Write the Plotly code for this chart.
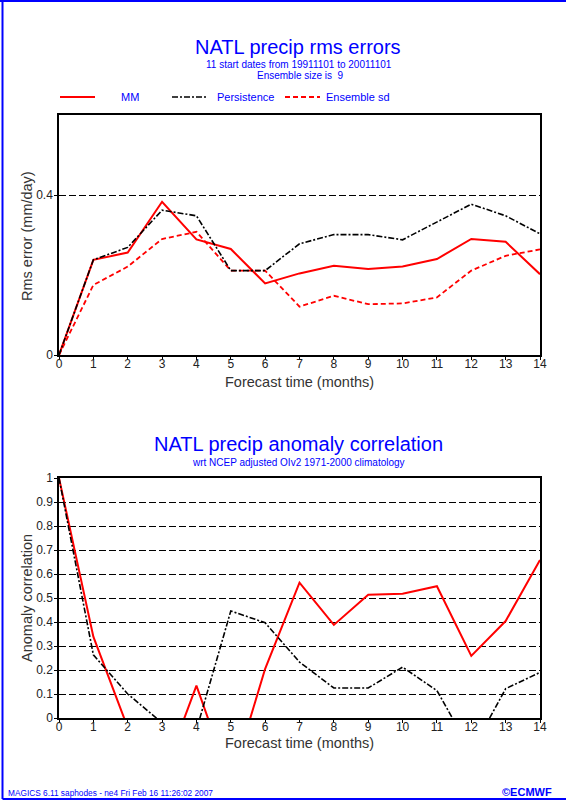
import plotly.graph_objects as go

# Forecast lead time (months)
months = list(range(15))

# RMS errors (mm/day)
rms_mm = [0, 0.238, 0.256, 0.383, 0.289, 0.265, 0.179, 0.204, 0.223, 0.215, 0.221, 0.240, 0.290, 0.283, 0.202]
rms_persistence = [0, 0.238, 0.269, 0.362, 0.348, 0.211, 0.211, 0.278, 0.301, 0.301, 0.288, 0.333, 0.377, 0.348, 0.303]
ensemble_sd = [0, 0.175, 0.221, 0.290, 0.308, 0.211, 0.211, 0.121, 0.148, 0.127, 0.129, 0.144, 0.211, 0.248, 0.264]

# Anomaly correlation
acc_mm = [1.0, 0.339, -0.04, -0.25, 0.135, -0.27, 0.205, 0.564, 0.388, 0.514, 0.518, 0.549, 0.259, 0.404, 0.658]
acc_persistence = [1.0, 0.263, 0.100, -0.02, -0.05, 0.446, 0.397, 0.233, 0.125, 0.125, 0.212, 0.114, -0.14, 0.122, 0.190]

rms_ticks = [0, 0.4]
rms_ticktext = ["0", "0.4"]
acc_ticks = [round(0.1 * i, 1) for i in range(11)]
acc_ticktext = ["0", "0.1", "0.2", "0.3", "0.4", "0.5", "0.6", "0.7", "0.8", "0.9", "1"]

W, H = 566, 805
FONT = "Liberation Sans, Arial, sans-serif"
BLUE = "#0000ff"
RED = "#ff0000"

MM_LINE = dict(color=RED, width=2)
PERS_LINE = dict(color="black", width=1.6, dash="6px,2px,2px,2px")
SD_LINE = dict(color=RED, width=1.8, dash="5px,3px")


def px(x):
    return x / W


def py(y):
    return 1 - y / H


fig = go.Figure()

fig.add_trace(go.Scatter(x=months, y=rms_mm, mode="lines", line=MM_LINE, xaxis="x", yaxis="y", name="MM"))
fig.add_trace(go.Scatter(x=months, y=ensemble_sd, mode="lines", line=SD_LINE, xaxis="x", yaxis="y", name="Ensemble sd"))
fig.add_trace(go.Scatter(x=months, y=rms_persistence, mode="lines", line=PERS_LINE, xaxis="x", yaxis="y", name="Persistence"))

fig.add_trace(go.Scatter(x=months, y=acc_mm, mode="lines", line=MM_LINE, xaxis="x2", yaxis="y2", name="MM"))
fig.add_trace(go.Scatter(x=months, y=acc_persistence, mode="lines", line=PERS_LINE, xaxis="x2", yaxis="y2", name="Persistence"))

tickfont = dict(family=FONT, size=12, color="#222")
axis_title_font = dict(family=FONT, size=14.5, color="#333")

common_x = dict(range=[0, 14], dtick=1, tick0=0, showline=True, mirror=True, linecolor="black",
                linewidth=1.5, ticks="outside", ticklen=3, tickcolor="black", showgrid=False,
                zeroline=False, tickfont=tickfont, fixedrange=True, automargin=False,
                ticklabelstandoff=-6)
common_y = dict(showline=True, mirror=True, linecolor="black", linewidth=1.5, ticks="outside",
                ticklen=3, tickcolor="black", showgrid=True, gridcolor="black", gridwidth=1,
                griddash="7px,3px", zeroline=False, tickfont=tickfont, fixedrange=True,
                automargin=False, ticklabelstandoff=-1)

fig.update_layout(
    width=W, height=H,
    margin=dict(l=0, r=0, t=0, b=0, pad=0),
    paper_bgcolor="white", plot_bgcolor="white",
    showlegend=False,
    xaxis=dict(domain=[px(59), px(540)], anchor="y", **common_x),
    yaxis=dict(domain=[py(355), py(115)], anchor="x", range=[0, 0.6],
               tickvals=rms_ticks, ticktext=rms_ticktext, **common_y),
    xaxis2=dict(domain=[px(59), px(540)], anchor="y2", **common_x),
    yaxis2=dict(domain=[py(718), py(478)], anchor="x2", range=[0, 1],
                tickvals=acc_ticks, ticktext=acc_ticktext, **common_y),
)

annotations = [
    dict(text="NATL precip rms errors", x=px(298), y=py(47), font=dict(family=FONT, size=20, color=BLUE)),
    dict(text="11 start dates from 19911101 to 20011101", x=px(299), y=py(64), font=dict(family=FONT, size=10, color=BLUE)),
    dict(text="Ensemble size is  9", x=px(300), y=py(76), font=dict(family=FONT, size=10, color=BLUE)),
    dict(text="NATL precip anomaly correlation", x=px(298), y=py(444), font=dict(family=FONT, size=20, color=BLUE)),
    dict(text="wrt NCEP adjusted OIv2 1971-2000 climatology", x=px(298), y=py(462), font=dict(family=FONT, size=10, color=BLUE)),
    dict(text="MAGICS 6.11 saphodes - ne4 Fri Feb 16 11:26:02 2007", x=px(7), y=py(793), xanchor="left",
         font=dict(family=FONT, size=8.3, color=BLUE)),
    dict(text="<b>©ECMWF</b>", x=px(553), y=py(792), xanchor="right", font=dict(family=FONT, size=11, color=BLUE)),
    # Axis titles
    dict(text="Forecast time (months)", x=px(299), y=py(382), font=axis_title_font),
    dict(text="Rms error (mm/day)", x=px(27), y=py(236), textangle=-90, font=axis_title_font),
    dict(text="Forecast time (months)", x=px(299), y=py(743), font=axis_title_font),
    dict(text="Anomaly correlation", x=px(27), y=py(598), textangle=-90, font=axis_title_font),
]

# Legend row: sample line followed by its label
legend_items = [
    ("MM", MM_LINE, 60, 95, 130),
    ("Persistence", PERS_LINE, 172, 208, 245),
    ("Ensemble sd", SD_LINE, 285, 320, 358),
]
shapes = []
legend_y = 97
for label, line, x0, x1, xt in legend_items:
    shapes.append(dict(type="line", xref="paper", yref="paper", x0=px(x0), x1=px(x1),
                       y0=py(legend_y), y1=py(legend_y), line=line))
    annotations.append(dict(text=label, x=px(xt), y=py(legend_y), font=dict(family=FONT, size=11, color=BLUE)))

for a in annotations:
    a.setdefault("xanchor", "center")
    a.update(xref="paper", yref="paper", yanchor="middle", showarrow=False, borderpad=0)

# Page frame
frame = dict(color=BLUE, width=2)
shapes += [
    dict(type="line", xref="paper", yref="paper", x0=0, x1=1, y0=py(1), y1=py(1), line=frame),
    dict(type="line", xref="paper", yref="paper", x0=px(2.5), x1=px(2.5), y0=py(0), y1=py(799), line=frame),
    dict(type="line", xref="paper", yref="paper", x0=px(2.5), x1=1, y0=py(799), y1=py(799), line=frame),
]

fig.update_layout(annotations=annotations, shapes=shapes)

fig.write_html("out.html", config=dict(displayModeBar=False))
